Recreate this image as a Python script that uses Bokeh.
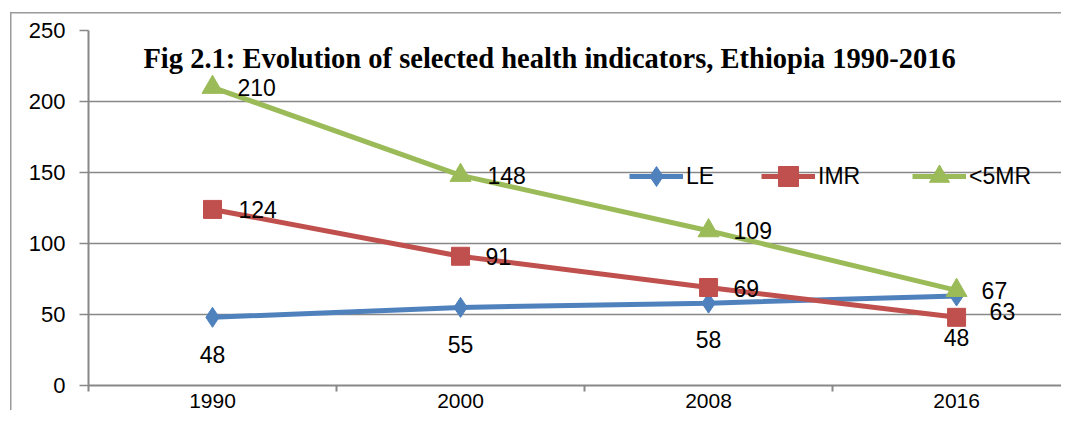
from bokeh.plotting import figure
from bokeh.models import ColumnDataSource, Range1d, FixedTicker, Legend, LegendItem, Label
from bokeh.core.properties import value
from bokeh.embed import file_html
from bokeh.resources import INLINE

# ---- data ----
years = ["1990", "2000", "2008", "2016"]
le = [48, 55, 58, 63]
imr = [124, 91, 69, 48]
u5mr = [210, 148, 109, 67]
series_names = ["LE", "IMR", "<5MR"]
y_ticks = [0, 50, 100, 150, 200, 250]
title_text = "Fig 2.1: Evolution of selected health indicators, Ethiopia 1990-2016"

# ---- styling ----
colors = ["#4F81BD", "#C0504D", "#9BBB59"]
markers = ["diamond", "square", "triangle"]
sizes = [20, 18, 21]
LABEL_FONT = "Liberation Sans"
AX_FONT = "Liberation Sans"
GRID = "#888888"

xs = [i + 0.5 for i in range(len(years))]

p = figure(width=1061, height=410, output_backend="svg", toolbar_location=None,
           x_range=Range1d(0, 3.923), y_range=Range1d(0, 250),
           min_border_left=88, min_border_top=30, min_border_bottom=24,
           min_border_right=0)
p.outline_line_color = None
p.background_fill_color = "white"
p.border_fill_alpha = 0
# outer chart border line (left and top), drawn behind the transparent border area
p.styles = {"box-shadow": "inset 10px 12px 0 0 #ffffff, inset 11.5px 13.5px 0 0 #9a9a9a",
            "background": "#ffffff"}

# axes
p.xaxis.ticker = FixedTicker(ticks=xs, minor_ticks=[0, 1, 2, 3])
p.xaxis.major_label_overrides = {x: y for x, y in zip(xs, years)}
p.xaxis.major_tick_out = 0
p.xaxis.major_tick_in = 0
p.xaxis.minor_tick_out = 6
p.xaxis.minor_tick_in = 0
p.xaxis.minor_tick_line_color = GRID
p.xaxis.minor_tick_line_width = 2
p.xaxis.axis_line_color = GRID
p.xaxis.axis_line_width = 2
p.xaxis.major_label_standoff = 2
p.xaxis.major_label_text_font = AX_FONT
p.xaxis.major_label_text_font_size = "21px"
p.xaxis.major_label_text_color = "black"

p.yaxis.ticker = FixedTicker(ticks=y_ticks)
p.yaxis.major_tick_out = 9
p.yaxis.major_tick_in = 0
p.yaxis.minor_tick_out = 0
p.yaxis.minor_tick_in = 0
p.yaxis.major_tick_line_color = GRID
p.yaxis.major_tick_line_width = 1.5
p.yaxis.axis_line_color = GRID
p.yaxis.axis_line_width = 2
p.yaxis.major_label_standoff = 14
p.yaxis.major_label_text_font = AX_FONT
p.yaxis.major_label_text_font_size = "22px"
p.yaxis.major_label_text_color = "black"

p.xgrid.grid_line_color = None
p.ygrid.ticker = FixedTicker(ticks=y_ticks)
p.ygrid.grid_line_color = GRID
p.ygrid.grid_line_width = 1.5

# series
all_vals = [le, imr, u5mr]
items = []
for name, vals, c, m, s in zip(series_names, all_vals, colors, markers, sizes):
    rl = p.line(xs, vals, line_width=5, line_color=c)
    rm = p.scatter(xs, vals, marker=m, size=s, fill_color=c, line_color=c)
    items.append(LegendItem(label=name, renderers=[rl, rm]))

# data labels: (series index, point index) -> placement
right_lbl = dict(x=[], y=[], text=[], dx=[], dy=[])
below_lbl = dict(x=[], y=[], text=[], dx=[], dy=[])
placement = {
    (0, 0): ("below", 0, 37), (0, 1): ("below", 0, 37), (0, 2): ("below", 0, 36), (0, 3): ("right", 33, 15),
    (1, 0): ("right", 26, 0), (1, 1): ("right", 25, 0), (1, 2): ("right", 25, 1), (1, 3): ("below", 0, 20),
    (2, 0): ("right", 25, 0), (2, 1): ("right", 27, 0), (2, 2): ("right", 25, 0), (2, 3): ("right", 25, 0),
}
for si, vals in enumerate(all_vals):
    for pi, v in enumerate(vals):
        kind, dx, dy = placement[(si, pi)]
        d = right_lbl if kind == "right" else below_lbl
        d["x"].append(xs[pi]); d["y"].append(v); d["text"].append(str(v))
        d["dx"].append(dx); d["dy"].append(dy)

p.text(x="x", y="y", text="text", x_offset="dx", y_offset="dy",
       source=ColumnDataSource(right_lbl), text_align="left", text_baseline="middle",
       text_font=value(LABEL_FONT), text_font_size="23px", text_color="black")
p.text(x="x", y="y", text="text", x_offset="dx", y_offset="dy",
       source=ColumnDataSource(below_lbl), text_align="center", text_baseline="middle",
       text_font=value(LABEL_FONT), text_font_size="23px", text_color="black")

# legends (one per entry, placed side by side)
legend_x = [541, 673, 824]
for it, lx in zip(items, legend_x):
    lg = Legend(items=[it], location=(lx, 184), orientation="horizontal",
                glyph_width=54, glyph_height=50, label_height=50, label_standoff=3,
                padding=0, margin=0, spacing=0, border_line_color=None,
                background_fill_alpha=0, label_text_font=LABEL_FONT,
                label_text_font_size="23px", label_text_baseline="middle",
                label_text_color="black")
    p.add_layout(lg, "center")

# title inside plot area
p.add_layout(Label(x=1.859, y=230, text=title_text, text_align="center",
                   text_baseline="alphabetic", text_font="Liberation Serif",
                   text_font_style="bold", text_font_size="28.5px", text_color="black"))

open("out.html", "w").write(file_html(p, INLINE))
